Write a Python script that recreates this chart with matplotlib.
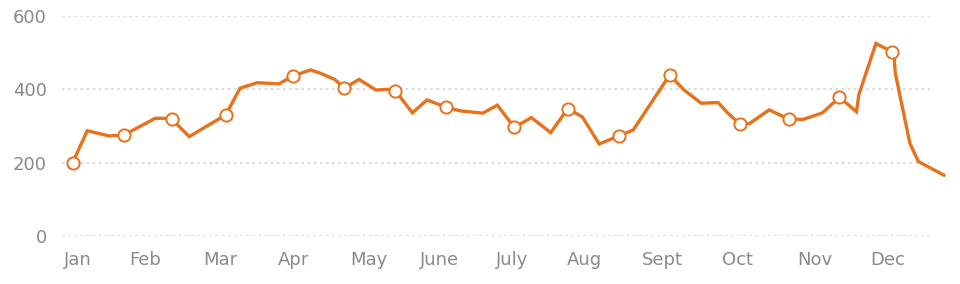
import matplotlib
matplotlib.use("Agg")
import matplotlib.pyplot as plt

# Day of year (0 = Jan 1) and daily value
days = [-2, 4, 13, 19, 32, 37, 39, 46, 61, 67,
        74, 83, 89, 96, 100, 106, 110, 116, 123, 128,
        131, 138, 144, 152, 158, 167, 173, 180, 187, 195,
        202, 208, 215, 223, 229, 244, 250, 257, 264, 268,
        273, 277, 285, 293, 299, 307, 314, 321, 322, 329,
        335.5, 336.5, 337, 343, 346.5, 357]
values = [200, 287, 273, 275, 321, 321, 318, 271, 330, 403,
          418, 415, 437, 453, 444, 427, 403, 427, 398, 400,
          396, 336, 371, 351, 341, 335, 357, 296, 323, 282,
          347, 325, 251, 273, 289, 439, 398, 362, 364, 335,
          305, 307, 344, 319, 318, 336, 378, 339, 386, 525,
          503, 489, 444, 253, 203, 166]
# points drawn with a hollow marker
marker_idx = [0, 3, 6, 8, 12, 16, 20, 23, 27, 30, 33, 35, 40, 43, 46, 50]

month_labels = ["Jan", "Feb", "Mar", "Apr", "May", "June",
                "July", "Aug", "Sept", "Oct", "Nov", "Dec"]
month_days = [0, 28, 59, 89, 120, 149, 179, 209, 241, 272, 304, 334]
y_ticks = [0, 200, 400, 600]

ORANGE = "#e8711c"
GREY = "#878a8e"

fig = plt.figure(figsize=(9.6, 2.84), dpi=100)
ax = fig.add_axes([62 / 960, 48 / 284, 868 / 960, 220 / 284])

ax.plot(days, values, color=ORANGE, linewidth=2.4, solid_joinstyle="miter",
        marker="o", markevery=marker_idx, markersize=8.8,
        markerfacecolor="white", markeredgecolor=ORANGE, markeredgewidth=1.4,
        clip_on=False, zorder=3)

ax.set_xlim(-6.4, 351.3)
ax.set_ylim(0, 600)

for y in y_ticks:
    ax.axhline(y, color="#d6d6d6", linewidth=1.3, dashes=(1.4, 2.0), zorder=1)

ax.set_xticks(month_days)
ax.set_xticklabels(month_labels)
ax.set_yticks(y_ticks)
ax.tick_params(axis="both", length=0, labelsize=13, labelcolor=GREY)
ax.tick_params(axis="x", pad=11)
ax.tick_params(axis="y", pad=11)

for s in ax.spines.values():
    s.set_visible(False)

fig.savefig("out.png", dpi=100)
